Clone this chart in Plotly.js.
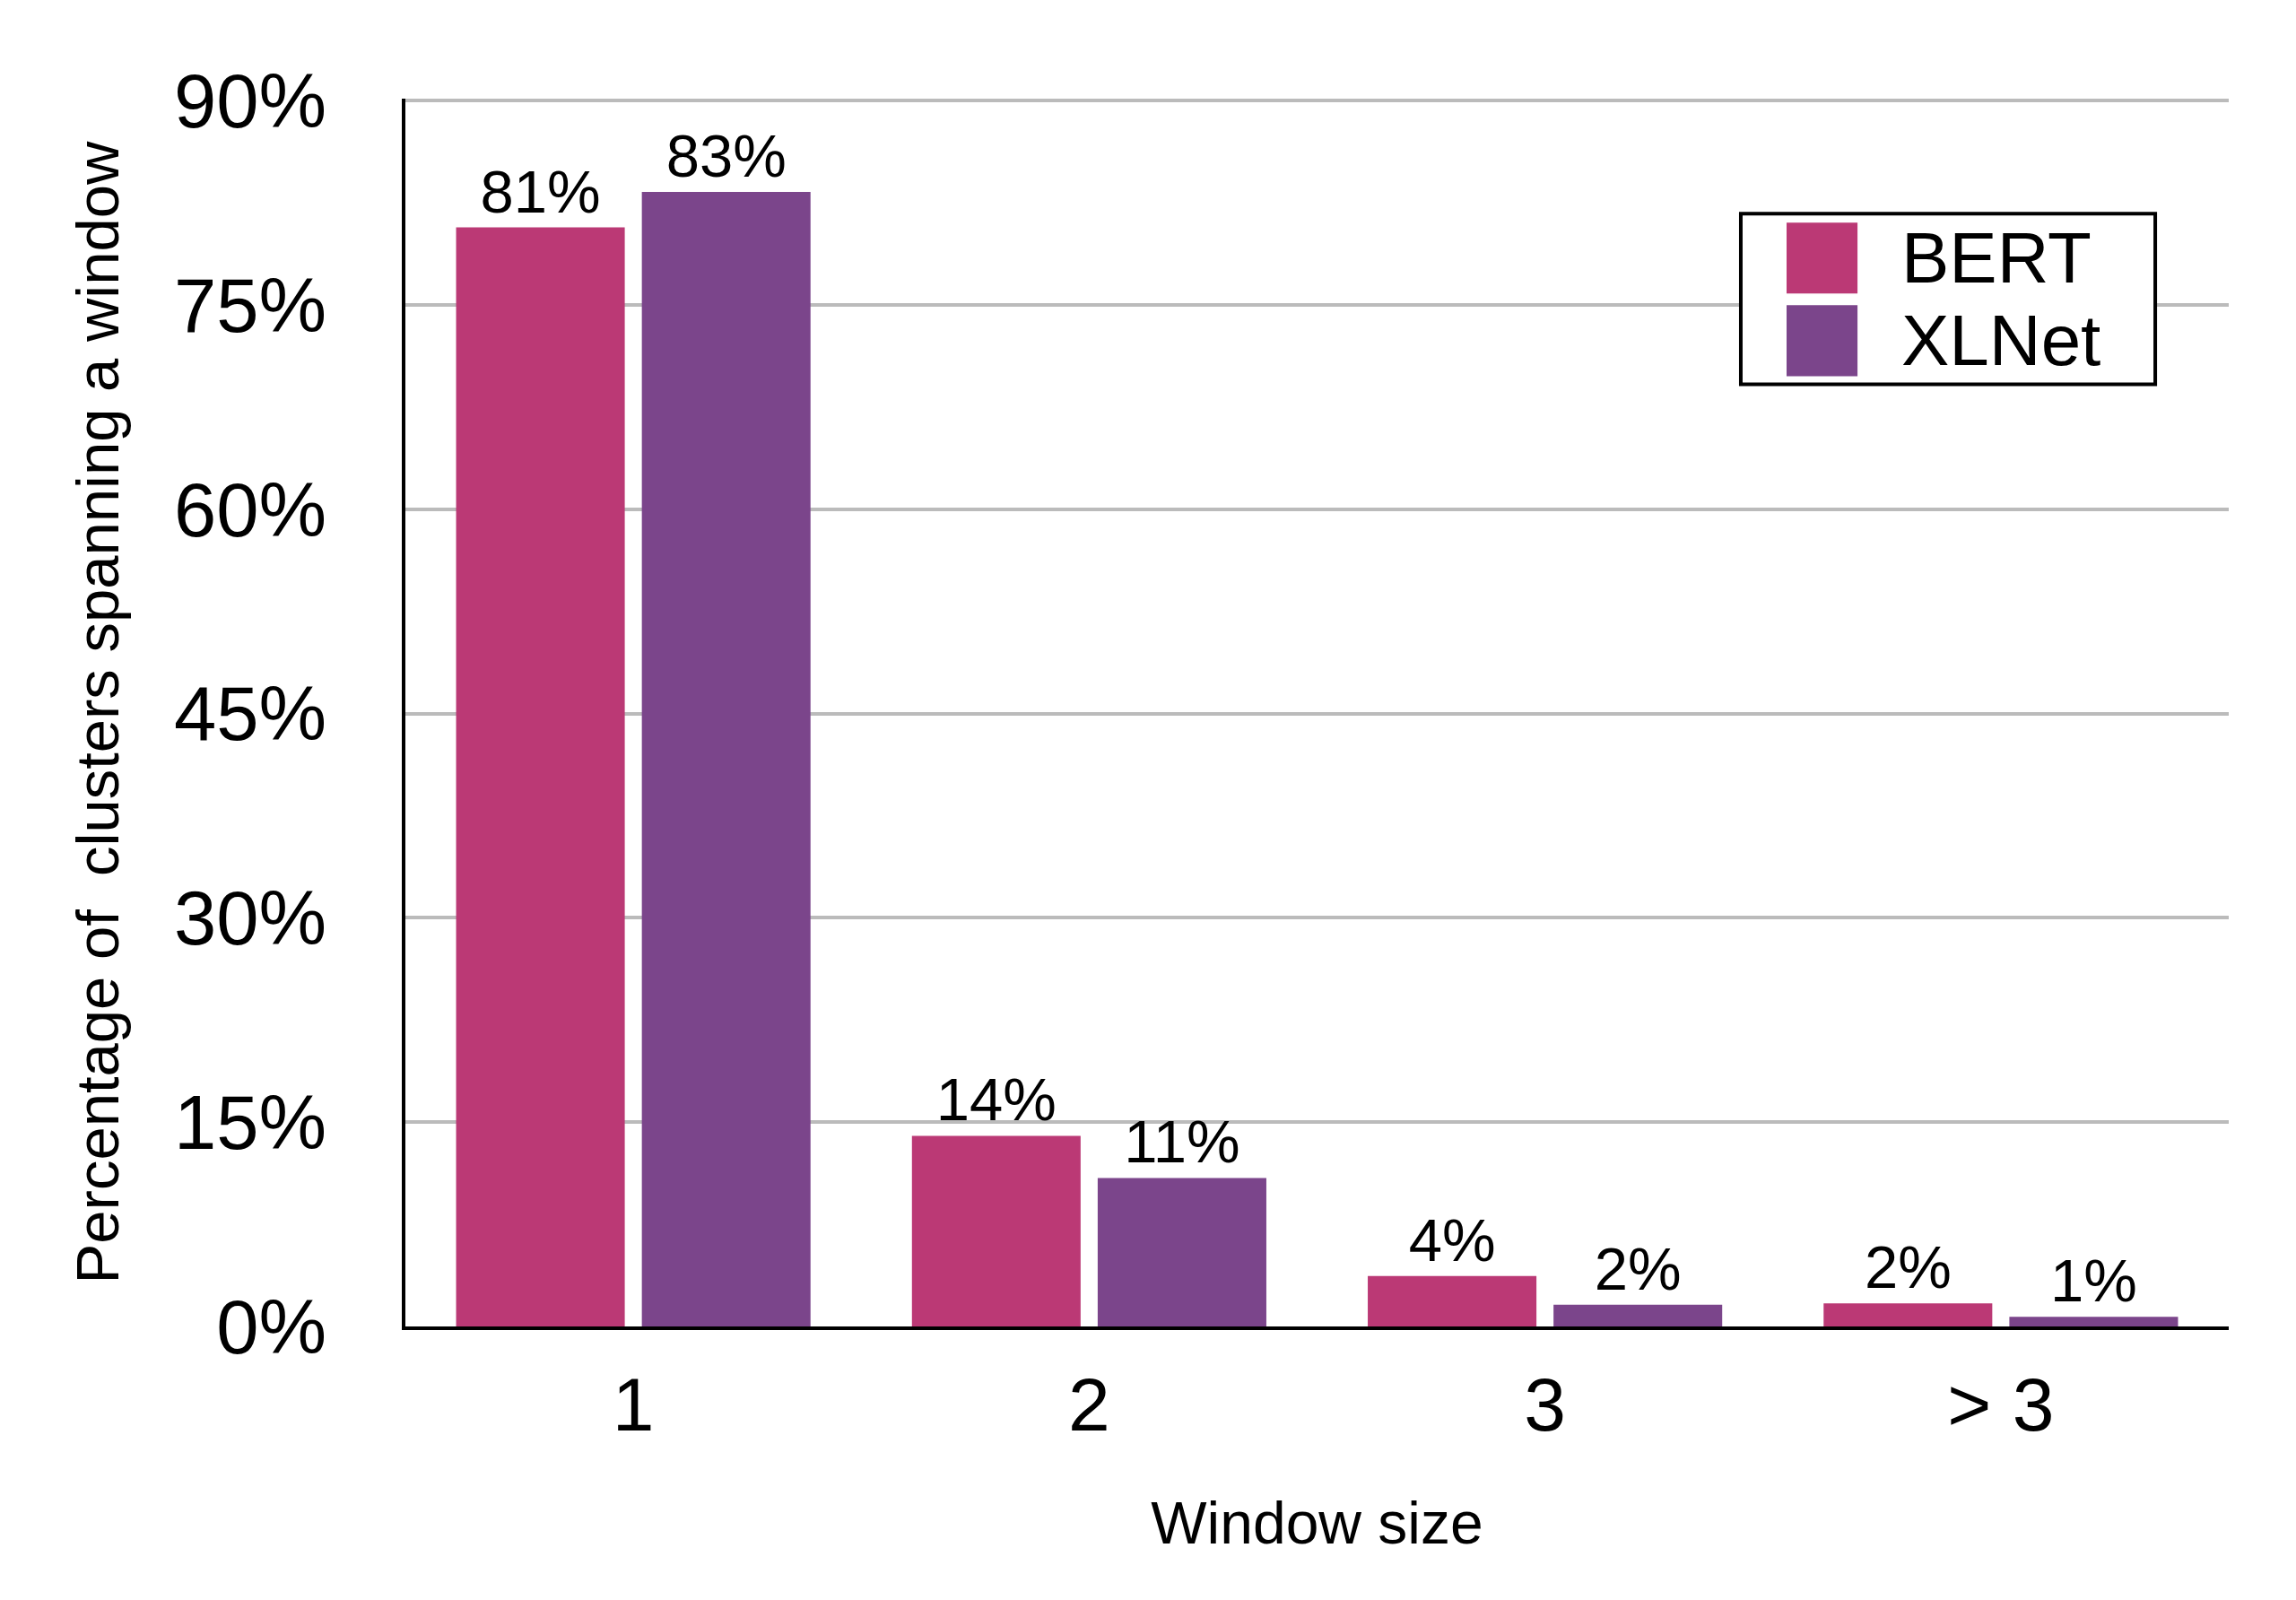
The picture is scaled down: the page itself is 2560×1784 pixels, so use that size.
<!DOCTYPE html>
<html>
<head>
<meta charset="utf-8">
<script src="https://cdn.plot.ly/plotly-3.0.1.min.js"></script>
<style>
  html, body { margin: 0; padding: 0; background: #fff; }
  #chart { width: 2560px; height: 1784px; }
</style>
</head>
<body>
<div id="chart"></div>
<script>
// window sizes on the x axis
const windowSizes = ['1', '2', '3', '> 3'];

// percentage of clusters spanning a window
const bertValues = [80.7, 14.0, 3.7, 1.7];
const xlnetValues = [83.3, 10.9, 1.6, 0.7];

// labels printed above the bars
const bertLabels = ['81%', '14%', '4%', '2%'];
const xlnetLabels = ['83%', '11%', '2%', '1%'];

const yTicks = [0, 15, 30, 45, 60, 75, 90];
const yTickText = ['0%', '15%', '30%', '45%', '60%', '75%', '90%'];

const BERT_COLOR = '#bb3975';
const XLNET_COLOR = '#7b458b';
const FONT = '"Liberation Sans", Arial, Helvetica, sans-serif';

const bert = {
    type: 'bar',
    name: 'BERT',
    x: windowSizes,
    y: bertValues,
    text: bertLabels,
    textposition: 'outside',
    cliponaxis: false,
    constraintext: 'none',
    textfont: {family: FONT, size: 67, color: '#000'},
    marker: {color: BERT_COLOR},
    hoverinfo: 'skip'
};

const xlnet = {
    type: 'bar',
    name: 'XLNet',
    x: windowSizes,
    y: xlnetValues,
    text: xlnetLabels,
    textposition: 'outside',
    cliponaxis: false,
    constraintext: 'none',
    textfont: {family: FONT, size: 67, color: '#000'},
    marker: {color: XLNET_COLOR},
    hoverinfo: 'skip'
};

// hand-made legend with large swatches (plotly keeps bar legend symbols tiny)
const legendShapes = [
    {type: 'rect', xref: 'paper', yref: 'paper', x0: 0.7324, x1: 0.9597, y0: 0.7674, y1: 0.9064,
     line: {color: '#000', width: 4}, fillcolor: '#fff', layer: 'above'},
    {type: 'rect', xref: 'paper', yref: 'paper', x0: 0.7575, x1: 0.7964, y0: 0.8413, y1: 0.8990,
     line: {width: 0}, fillcolor: BERT_COLOR, layer: 'above'},
    {type: 'rect', xref: 'paper', yref: 'paper', x0: 0.7575, x1: 0.7964, y0: 0.7740, y1: 0.8318,
     line: {width: 0}, fillcolor: XLNET_COLOR, layer: 'above'}
];

const legendText = [
    {text: 'BERT', xref: 'paper', yref: 'paper', x: 0.8197, y: 0.8701,
     xanchor: 'left', yanchor: 'middle', showarrow: false,
     font: {family: FONT, size: 80, color: '#000'}},
    {text: 'XLNet', xref: 'paper', yref: 'paper', x: 0.8197, y: 0.8030,
     xanchor: 'left', yanchor: 'middle', showarrow: false,
     font: {family: FONT, size: 80, color: '#000'}}
];

const layout = {
    width: 2560,
    height: 1784,
    margin: {l: 452, r: 75, t: 110, b: 305},
    paper_bgcolor: '#fff',
    plot_bgcolor: '#fff',
    font: {family: FONT, color: '#000'},
    showlegend: false,
    barmode: 'group',
    bargap: 0.185,
    bargroupgap: 0.092,
    xaxis: {
        type: 'category',
        range: [-0.5, 3.5],
        showgrid: false,
        showline: true,
        linecolor: '#000',
        linewidth: 4,
        ticks: '',
        ticklabelstandoff: 11,
        tickfont: {family: FONT, size: 84, color: '#000'},
        title: {text: 'Window size', font: {family: FONT, size: 66, color: '#000'}, standoff: 64},
        fixedrange: true
    },
    yaxis: {
        range: [0, 90.15],
        tickvals: yTicks,
        ticktext: yTickText,
        showgrid: true,
        gridcolor: '#bbbbbb',
        gridwidth: 4,
        zeroline: false,
        showline: true,
        linecolor: '#000',
        linewidth: 4,
        ticks: '',
        ticklabelstandoff: 67,
        tickfont: {family: FONT, size: 85, color: '#000'},
        title: {text: 'Percentage of &nbsp;clusters spanning a window',
                font: {family: FONT, size: 67, color: '#000'}, standoff: 40},
        fixedrange: true
    },
    shapes: legendShapes,
    annotations: legendText
};

Plotly.newPlot('chart', [bert, xlnet], layout, {staticPlot: true, displayModeBar: false});
</script>
</body>
</html>
